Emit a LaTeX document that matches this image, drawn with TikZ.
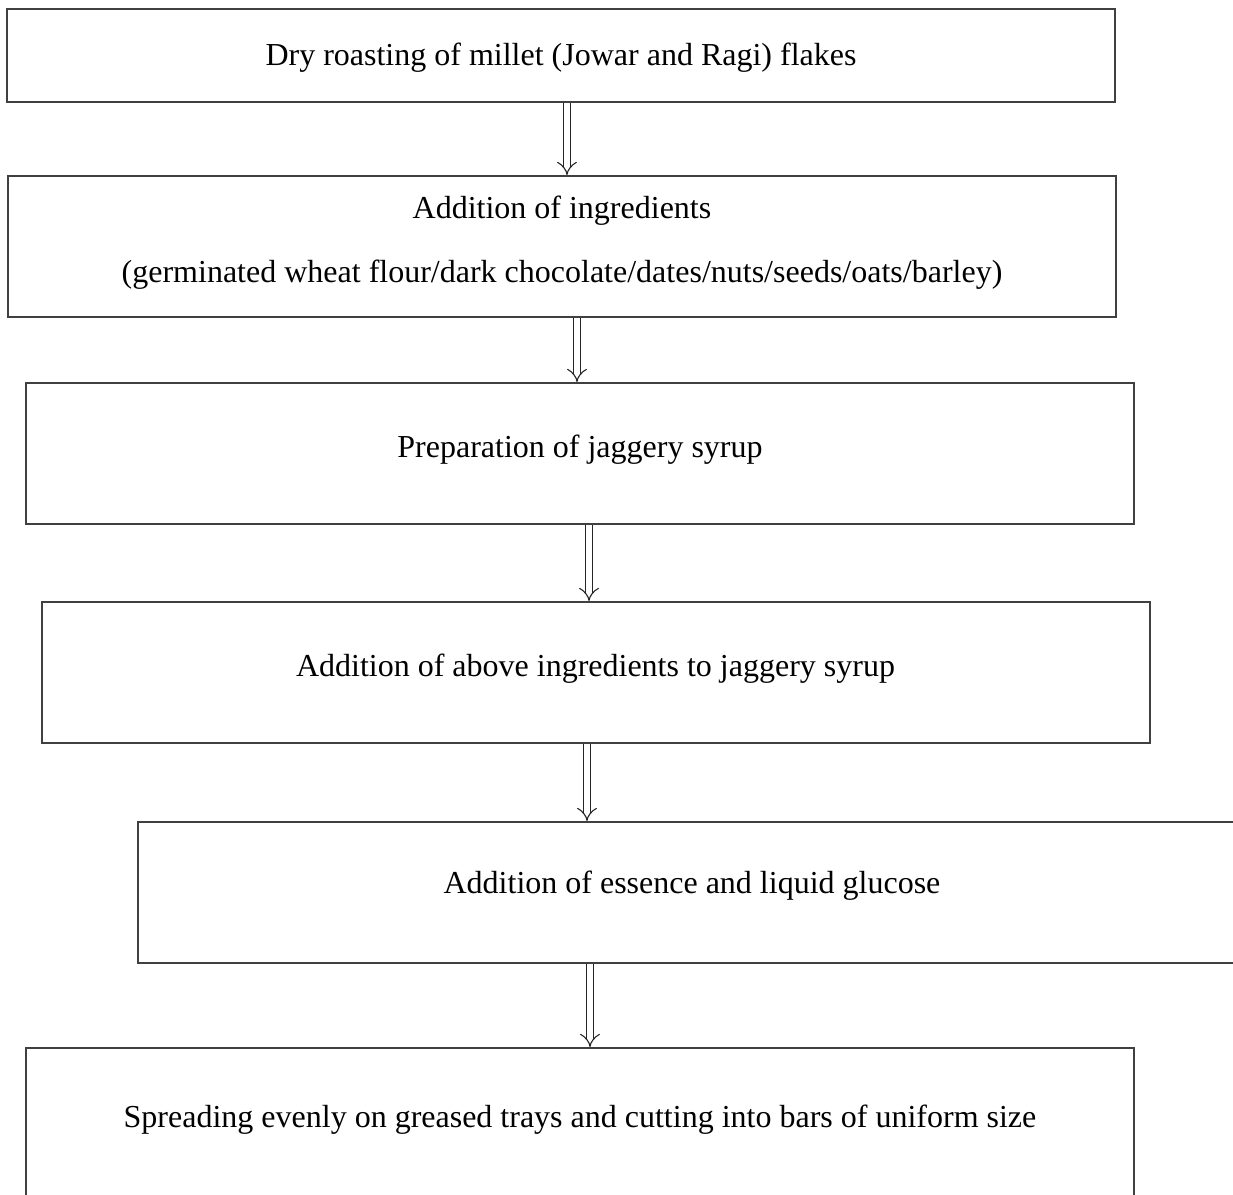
\documentclass[tikz,border=0pt]{standalone}
\usepackage{fontspec}
\setmainfont{Liberation Serif}
\usetikzlibrary{arrows.meta}
\begin{document}
\begin{tikzpicture}[x=0.5pt,y=-0.5pt,
  stepbox/.style={draw=black!75, line width=1pt, rectangle, inner sep=0pt, minimum width=554pt, minimum height=70.5pt},
  steptext/.style={inner sep=0pt, align=center, font=\fontsize{16}{32}\selectfont},
  flow/.style={draw=black!85, line width=0.55pt, double, double distance=3pt, -{Implies}}]
\useasboundingbox (0,0) rectangle (1233,1195);
% boxes
\node[stepbox, minimum height=46.5pt] (b1) at (561,55.5) {};
\node[stepbox] (b2) at (562,246.5) {};
\node[stepbox] (b3) at (580,453.5) {};
\node[stepbox] (b4) at (595.5,672.5) {};
\node[stepbox] (b5) at (692,892.5) {};
\node[stepbox, minimum height=75pt] (b6) at (580,1123) {};
% texts
\node[steptext] (t1) at (561,58) {Dry roasting of millet (Jowar and Ragi) flakes};
\node[steptext] (t2) at (562,243) {Addition of ingredients\\(germinated wheat flour/dark chocolate/dates/nuts/seeds/oats/barley)};
\node[steptext] (t3) at (580,450) {Preparation of jaggery syrup};
\node[steptext] (t4) at (595.5,669) {Addition of above ingredients to jaggery syrup};
\node[steptext] (t5) at (692,886) {Addition of essence and liquid glucose};
\node[steptext] (t6) at (580,1120) {Spreading evenly on greased trays and cutting into bars of uniform size};
% arrow columns
\coordinate (x1) at (567,0);
\coordinate (x2) at (577,0);
\coordinate (x3) at (589,0);
\coordinate (x4) at (587,0);
\coordinate (x5) at (590,0);
\draw[flow] (b1.south -| x1) -- (b2.north -| x1);
\draw[flow] (b2.south -| x2) -- (b3.north -| x2);
\draw[flow] (b3.south -| x3) -- (b4.north -| x3);
\draw[flow] (b4.south -| x4) -- (b5.north -| x4);
\draw[flow] (b5.south -| x5) -- (b6.north -| x5);
\end{tikzpicture}
\end{document}
